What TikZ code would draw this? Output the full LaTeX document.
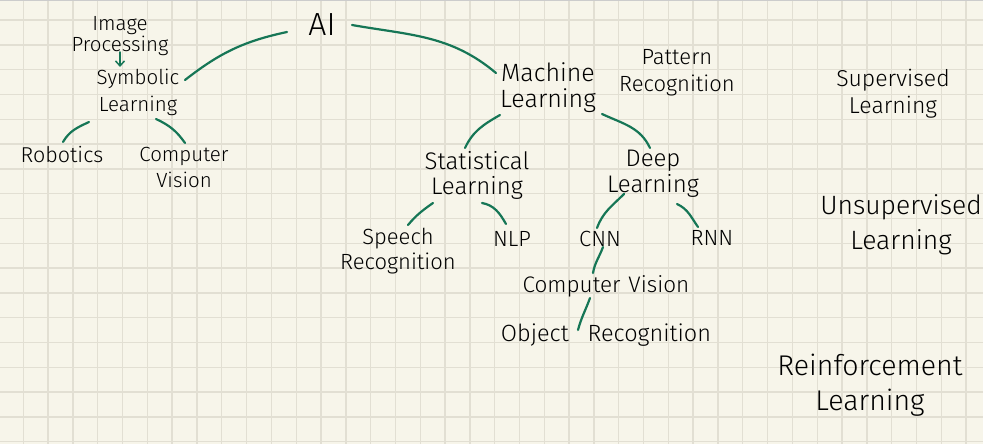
\documentclass[tikz,border=0pt]{standalone}
\usepackage{fontspec}
\setmainfont{Fira Sans Light}
\usetikzlibrary{arrows.meta}
\definecolor{paper}{RGB}{247,245,234}
\definecolor{gridc}{RGB}{226,223,211}
\definecolor{ink}{RGB}{22,118,86}
\begin{document}
\begin{tikzpicture}[x=1pt,y=1pt,
  lbl/.style={inner sep=0pt, align=center, text=black},
  link/.style={draw=ink, line width=2.2pt, line cap=round},
]
\useasboundingbox (0,0) rectangle (983,-444);
\fill[paper] (0,0) rectangle (983,-444);
\foreach \k in {-1,...,38} {\pgfmathsetmacro\xx{23.3+24.81*\k}
  \draw[gridc, line width=1.4pt] (\xx,0) -- (\xx,-444);}
\foreach \k in {-1,...,17} {\pgfmathsetmacro\yy{-(20+24.81*\k)}
  \draw[gridc, line width=1.4pt] (0,\yy) -- (983,\yy);}
\draw[black!20, line width=2pt] (0,0) -- (983,0);

\node[lbl, font=\fontsize{32}{34}\selectfont] (ai) at (322,-25) {AI};
\node[lbl, font=\fontsize{20.5}{20.5}\selectfont] (img) at (120,-36) {Image\\Processing};
\node[lbl, font=\fontsize{20.5}{27}\selectfont] (sym) at (138,-92) {Symbolic\\Learning};
\node[lbl, font=\fontsize{21.5}{26}\selectfont] (rob) at (62,-155) {Robotics};
\node[lbl, font=\fontsize{20.5}{26}\selectfont] (cva) at (184,-167) {Computer\\Vision};
\node[lbl, font=\fontsize{25}{26}\selectfont] (ml) at (548,-88) {Machine\\Learning};
\node[lbl, font=\fontsize{22}{27}\selectfont] (pat) at (677,-73) {Pattern\\Recognition};
\node[lbl, font=\fontsize{24}{25}\selectfont] (stat) at (477,-175) {Statistical\\Learning};
\node[lbl, font=\fontsize{24}{26}\selectfont] (deep) at (653,-174) {Deep\\Learning};
\node[lbl, font=\fontsize{22}{25}\selectfont] (speech) at (398,-251) {Speech\\Recognition};
\node[lbl, font=\fontsize{22}{26}\selectfont] (nlp) at (512,-239) {NLP};
\node[lbl, font=\fontsize{22}{26}\selectfont] (cnn) at (600,-239) {CNN};
\node[lbl, font=\fontsize{22}{26}\selectfont] (rnn) at (712,-238) {RNN};
\node[lbl, font=\fontsize{22.5}{26}\selectfont] (cvb) at (606,-286) {Computer\hspace{0.35em}Vision};
\node[lbl, font=\fontsize{23.5}{26}\selectfont] (obj) at (606,-335) {Object\hspace{0.8em}Recognition};
\node[lbl, font=\fontsize{23}{27}\selectfont] (sup) at (893,-94) {Supervised\\Learning};
\node[lbl, font=\fontsize{26.5}{35}\selectfont] (unsup) at (901,-225) {Unsupervised\\Learning};
\node[lbl, font=\fontsize{28.5}{35}\selectfont] (rein) at (870,-385) {Reinforcement\\Learning};

\draw[link] ([shift={(-35,-7)}]ai.center) to[out=192,in=38] ([shift={(47,12)}]sym.center);
\draw[link] ([shift={(-49,-30)}]sym.center) to[out=205,in=60] ([shift={(1,13)}]rob.center);
\draw[link] ([shift={(18,-27)}]sym.center) to[out=-25,in=125] ([shift={(1,24)}]cva.center);
\draw[link] ([shift={(30,0)}]ai.center) to[out=-10,in=140] ([shift={(-52,15)}]ml.center);
\draw[link] ([shift={(-48,-27)}]ml.center) to[out=210,in=65] ([shift={(-12,27)}]stat.center);
\draw[link] ([shift={(54,-26)}]ml.center) to[out=-25,in=115] ([shift={(-3,26)}]deep.center);
\draw[link] ([shift={(-44,-28)}]stat.center) to[out=215,in=50] ([shift={(10,26)}]speech.center);
\draw[link] ([shift={(5,-28)}]stat.center) to[out=-10,in=120] ([shift={(-6,15)}]nlp.center);
\draw[link] ([shift={(-29,-20)}]deep.center) to[out=225,in=70] ([shift={(-3,11)}]cnn.center);
\draw[link] ([shift={(24,-30)}]deep.center) to[out=-25,in=125] ([shift={(-14,11)}]rnn.center);
\draw[link] ([shift={(3,-8)}]cnn.center) to[out=250,in=80] ([shift={(-13,13)}]cvb.center);
\draw[link] ([shift={(-16,-12)}]cvb.center) to[out=250,in=75] ([shift={(-28,5)}]obj.center);
\draw[link, line width=1.5pt, -{Straight Barb[length=5pt,width=9pt]}] ([shift={(0,-16)}]img.center) -- ([shift={(0,25)}]sym.center -| img.center);
\end{tikzpicture}
\end{document}
